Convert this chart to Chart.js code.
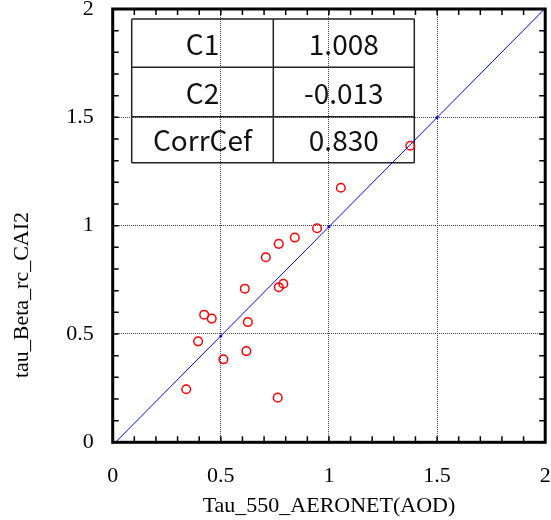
<!DOCTYPE html>
<html>
<head>
<meta charset="utf-8">
<script src="https://cdn.jsdelivr.net/npm/chart.js@4.4.1/dist/chart.umd.min.js"></script>
<style>
  html, body { margin: 0; padding: 0; background: #fff; }
  #wrap { width: 551px; height: 520px; }
</style>
</head>
<body>
<div id="wrap"><canvas id="scatterCanvas" width="551" height="520"></canvas></div>
<script>
// AERONET AOD vs retrieved tau
const aeronetAod = [0.340, 0.395, 0.423, 0.458, 0.512, 0.611, 0.618, 0.625, 0.708,
                    0.763, 0.768, 0.789, 0.768, 0.842, 0.945, 1.055, 1.376];
const tauBeta    = [0.245, 0.466, 0.589, 0.571, 0.383, 0.709, 0.421, 0.555, 0.854,
                    0.206, 0.716, 0.732, 0.916, 0.945, 0.988, 1.175, 1.369];

// regression table
const statNames  = ['C1', 'C2', 'CorrCef'];
const statValues = ['1.008', '-0.013', '0.830'];

// points where the fit line is evaluated
const fitX = [0, 0.5, 1, 1.5, 2];

const c1 = parseFloat(statValues[0]);
const c2 = parseFloat(statValues[1]);

const serif = "'Liberation Serif', 'Times New Roman', serif";

function isMajor(v) {
    return Math.abs(v * 2 - Math.round(v * 2)) < 1e-6;
}

// frame, inward minor ticks, table and y title
const framePlugin = {
    id: 'framePlugin',
    beforeDatasetsDraw(chart) {
        const ctx = chart.ctx;
        const a = chart.chartArea;
        const left = a.left, top = a.top;

        // stats table
        const colX = [left + 19, left + 160.6, left + 301.6];
        const rowY = [top + 10, top + 58.3, top + 107.7, top + 153.7];
        ctx.save();
        ctx.strokeStyle = '#222';
        ctx.lineWidth = 1.5;
        ctx.beginPath();
        rowY.forEach(y => { ctx.moveTo(colX[0], y); ctx.lineTo(colX[2], y); });
        colX.forEach(x => { ctx.moveTo(x, rowY[0]); ctx.lineTo(x, rowY[3]); });
        ctx.stroke();
        ctx.fillStyle = '#111';
        ctx.font = "28px 'Noto Sans CJK JP', 'Noto Sans', sans-serif";
        ctx.textAlign = 'center';
        ctx.textBaseline = 'middle';
        for (let i = 0; i < statNames.length; i++) {
            const cy = (rowY[i] + rowY[i + 1]) / 2 + 1;
            ctx.fillText(statNames[i], (colX[0] + colX[1]) / 2, cy);
            ctx.fillText(statValues[i], (colX[1] + colX[2]) / 2, cy);
        }
        ctx.restore();
    },
    afterDraw(chart) {
        const ctx = chart.ctx;
        const a = chart.chartArea;
        const xs = chart.scales.x, ys = chart.scales.y;
        const len = 6;
        ctx.save();
        ctx.strokeStyle = '#000';
        ctx.lineWidth = 1.5;
        ctx.beginPath();
        xs.ticks.forEach(t => {
            const px = xs.getPixelForValue(t.value);
            ctx.moveTo(px, a.bottom); ctx.lineTo(px, a.bottom - len);
            ctx.moveTo(px, a.top); ctx.lineTo(px, a.top + len);
        });
        ys.ticks.forEach(t => {
            const py = ys.getPixelForValue(t.value);
            ctx.moveTo(a.left, py); ctx.lineTo(a.left + len, py);
            ctx.moveTo(a.right, py); ctx.lineTo(a.right - len, py);
        });
        ctx.stroke();

        ctx.lineWidth = 3;
        ctx.strokeRect(a.left, a.top, a.right - a.left, a.bottom - a.top);

        // y axis title
        ctx.translate(22, 295);
        ctx.rotate(-Math.PI / 2);
        ctx.fillStyle = '#000';
        ctx.font = '22px ' + serif;
        ctx.textAlign = 'center';
        ctx.textBaseline = 'middle';
        ctx.fillText('tau_Beta_rc_CAI2', 0, 0);
        ctx.restore();
    }
};

const gridOpts = {
    color: ctx => isMajor(ctx.tick.value) ? '#444' : 'rgba(0,0,0,0)',
    lineWidth: 1,
    drawTicks: false
};

new Chart(document.getElementById('scatterCanvas').getContext('2d'), {
    type: 'scatter',
    data: {
        datasets: [
            {
                label: 'fit',
                type: 'line',
                data: fitX.map(x => ({ x: x, y: c1 * x + c2 })),
                borderColor: '#0000ff',
                backgroundColor: '#0000ff',
                borderWidth: 1,
                pointRadius: 1.5,
                pointBorderWidth: 0,
                fill: false,
                tension: 0
            },
            {
                label: 'obs',
                data: aeronetAod.map((x, i) => ({ x: x, y: tauBeta[i] })),
                borderColor: '#ff0000',
                backgroundColor: 'rgba(0,0,0,0)',
                borderWidth: 1.5,
                pointRadius: 4.3,
                pointStyle: 'circle'
            }
        ]
    },
    options: {
        responsive: false,
        animation: false,
        layout: { padding: { top: 9, right: 5, left: 0, bottom: 0 } },
        plugins: {
            legend: { display: false },
            tooltip: { enabled: false }
        },
        scales: {
            x: {
                type: 'linear',
                min: 0,
                max: 2,
                border: { display: false, dash: [1, 1] },
                grid: gridOpts,
                ticks: {
                    stepSize: 0.1,
                    autoSkip: false,
                    maxRotation: 0,
                    padding: 21,
                    color: '#000',
                    font: { family: serif, size: 22 },
                    callback: v => isMajor(v) ? String(Math.round(v * 10) / 10) : ''
                },
                title: {
                    display: true,
                    text: 'Tau_550_AERONET(AOD)',
                    color: '#000',
                    font: { family: serif, size: 22 },
                    padding: { top: 0, bottom: 1 }
                },
                afterFit: s => { s.height = 77.7; s.paddingLeft = 0; s.paddingRight = 0; }
            },
            y: {
                type: 'linear',
                min: 0,
                max: 2,
                border: { display: false, dash: [1, 1] },
                grid: gridOpts,
                ticks: {
                    stepSize: 0.1,
                    autoSkip: false,
                    padding: 19,
                    color: '#000',
                    font: { family: serif, size: 22 },
                    callback: v => isMajor(v) ? String(Math.round(v * 10) / 10) : ''
                },
                afterFit: s => { s.width = 112.7; s.paddingTop = 0; s.paddingBottom = 0; }
            }
        }
    },
    plugins: [framePlugin]
});
</script>
</body>
</html>
